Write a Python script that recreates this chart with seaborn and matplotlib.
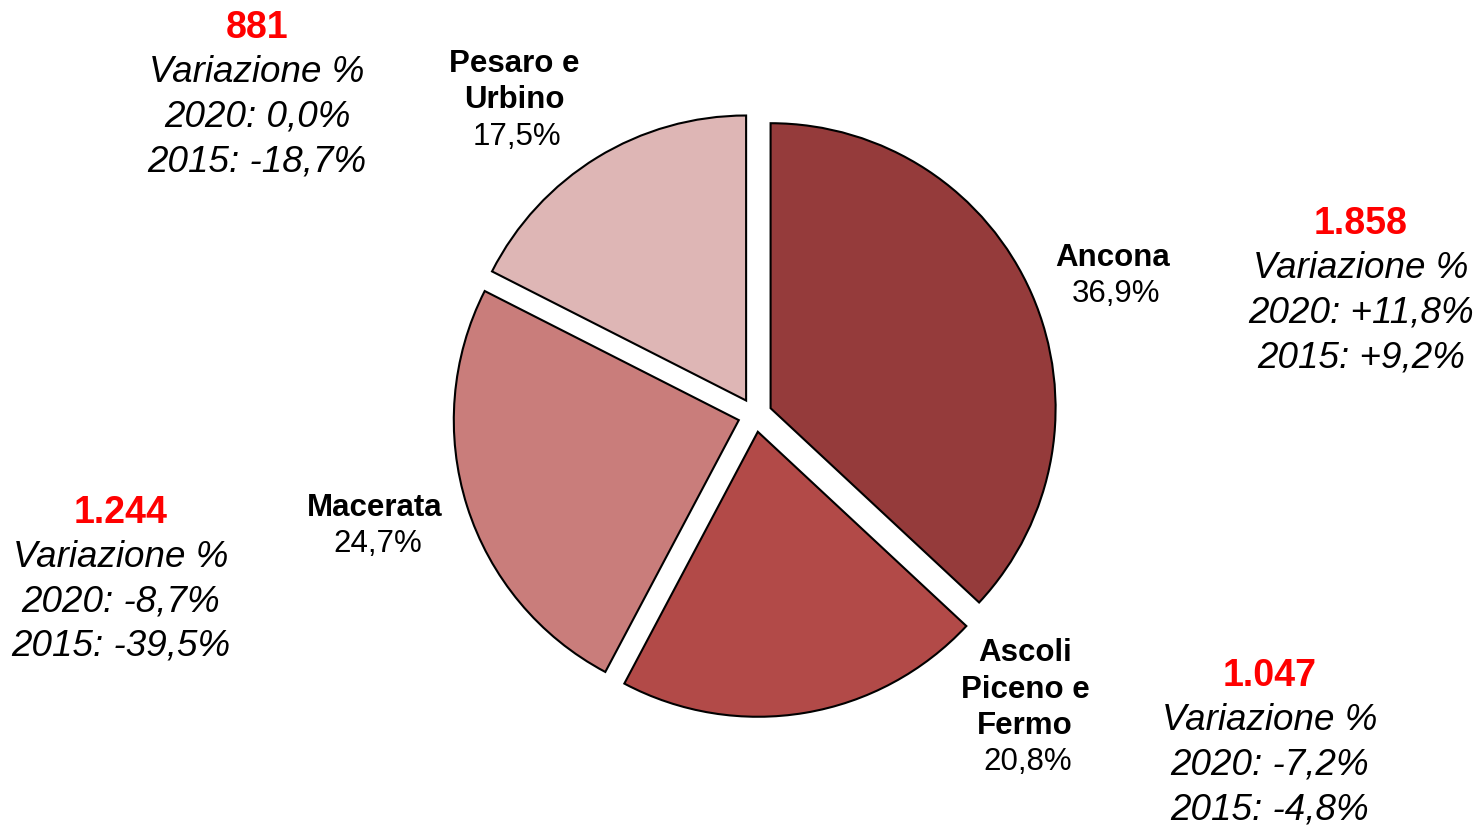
import matplotlib
matplotlib.use("Agg")
import matplotlib.pyplot as plt
import seaborn as sns

# ---- data ----
provinces = ["Ancona", "Ascoli Piceno e Fermo", "Macerata", "Pesaro e Urbino"]
label_lines = [["Ancona"], ["Ascoli", "Piceno e", "Fermo"], ["Macerata"], ["Pesaro e", "Urbino"]]
shares = [36.9, 20.8, 24.7, 17.5]
totals = ["1.858", "1.047", "1.244", "881"]
var_2020 = ["+11,8%", "-7,2%", "-8,7%", "0,0%"]
var_2015 = ["+9,2%", "-4,8%", "-39,5%", "-18,7%"]
colors = ["#953B3B", "#B24A48", "#C97D7B", "#DEB6B5"]

sns.set_theme(style="white")
plt.rcParams["font.family"] = ["Liberation Sans", "DejaVu Sans"]

W, H = 1477, 825
fig = plt.figure(figsize=(W / 100, H / 100), dpi=100)
ax = fig.add_axes([0, 0, 1, 1])

cx, cy, r = 755, H - 415, 285
ax.pie(shares, colors=colors, startangle=90, counterclock=False,
       radius=r, center=(cx, cy), explode=[17] * len(shares),
       wedgeprops=dict(edgecolor="black", linewidth=1.5))
ax.set_xlim(0, W)
ax.set_ylim(0, H)
ax.set_aspect("equal")
ax.axis("off")

def fmt(v):
    return f"{v:.1f}".replace(".", ",") + "%"

dy = 3  # small vertical offset in pixels

# pie labels: (x, y of first line) in pixels
label_pos = [(1113, 255), (1025, 650), (375, 505), (514, 61)]
step = 36.5
for lines, share, (x, y) in zip(label_lines, shares, label_pos):
    for i, ln in enumerate(lines):
        ax.text(x, H - (y + dy + i * step), ln, ha="center", va="center",
                fontsize=22.5, fontweight="bold", color="black")
    ax.text(x + 3, H - (y + dy + len(lines) * step), fmt(share), ha="center",
            va="center", fontsize=22.5, color="black")

# annotation blocks
block_pos = [(1361, 221), (1270, 673), (121, 510), (257, 25)]
bstep = 44.5
for tot, v20, v15, (x, y) in zip(totals, var_2020, var_2015, block_pos):
    ax.text(x, H - (y + dy), tot, ha="center", va="center", fontsize=27,
            fontweight="bold", color="#FF0000")
    for i, ln in enumerate(["Variazione %", f"2020: {v20}", f"2015: {v15}"]):
        ax.text(x, H - (y + dy + (i + 1) * bstep), ln, ha="center", va="center",
                fontsize=26.5, fontstyle="italic", color="black")

fig.savefig("out.png", dpi=100)
